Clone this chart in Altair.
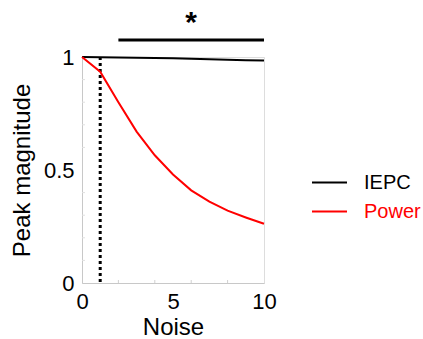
import altair as alt
import pandas as pd

noise = [0, 1, 2, 3, 4, 5, 6, 7, 8, 9, 10]
iepc = [1.0, 0.999, 0.998, 0.997, 0.996, 0.994, 0.992, 0.99, 0.988, 0.986, 0.984]
power = [1.0, 0.935, 0.80, 0.67, 0.565, 0.48, 0.41, 0.36, 0.32, 0.29, 0.262]

threshold_x = [1]
sig_start = [2]
sig_end = [10]
sig_level = [1.075]
star_x = [6]
star_y = [1.15]

x_minor = [2, 4, 6, 8]
y_minor = [0.1, 0.2, 0.3, 0.4, 0.6, 0.7, 0.8, 0.9]

FONT = "Liberation Sans"
W, H = 182, 226

rows = []
for n, a, b in zip(noise, iepc, power):
    rows.append({"noise": n, "value": a, "series": "IEPC"})
    rows.append({"noise": n, "value": b, "series": "Power"})
df = pd.DataFrame(rows)

xscale = alt.Scale(domain=[0, 10], nice=False)
yscale = alt.Scale(domain=[0, 1], nice=False)

lines = alt.Chart(df).mark_line(strokeWidth=2).encode(
    x=alt.X("noise:Q", scale=xscale, title="Noise",
            axis=alt.Axis(values=[0, 5, 10], tickSize=0, labelPadding=8, grid=False,
                          labelFlush=False, labelOverlap=False,
                          labelFontSize=22, titleFontSize=24, titlePadding=3,
                          labelFont=FONT, titleFont=FONT, domainColor="#c8c8c8",
                          labelColor="black", titleColor="black", titleFontWeight="normal")),
    y=alt.Y("value:Q", scale=yscale, title="Peak magnitude",
            axis=alt.Axis(values=[0, 0.5, 1], tickSize=0, labelPadding=8, grid=False,
                          labelFlush=False, labelOverlap=False,
                          labelFontSize=22, titleFontSize=24, titlePadding=9,
                          labelFont=FONT, titleFont=FONT, domainColor="#c8c8c8",
                          labelColor="black", titleColor="black", titleFontWeight="normal",
                          labelExpr="datum.value == 0.5 ? '0.5' : format(datum.value, 'd')")),
    color=alt.Color("series:N",
                    scale=alt.Scale(domain=["IEPC", "Power"], range=["black", "#ff0000"]),
                    legend=alt.Legend(title=None, orient="none", legendX=229, legendY=107,
                                      symbolType="stroke", symbolSize=1225, symbolStrokeWidth=2,
                                      labelFontSize=20, labelFont=FONT, labelOffset=16,
                                      rowPadding=-9,
                                      labelColor=alt.ExprRef("datum.label == 'Power' ? '#ff0000' : 'black'"))),
)

xt = alt.Chart(pd.DataFrame({"t": x_minor})).mark_rule(color="#d0d0d0", strokeWidth=1).encode(
    x=alt.X("t:Q", scale=xscale), y=alt.value(H), y2=alt.value(H - 3))
yt = alt.Chart(pd.DataFrame({"t": y_minor})).mark_rule(color="#e0e0e0", strokeWidth=1).encode(
    y=alt.Y("t:Q", scale=yscale), x=alt.value(0), x2=alt.value(3))

thr = alt.Chart(pd.DataFrame({"x": threshold_x})).mark_rule(
    color="black", strokeWidth=3, strokeDash=[3, 3]).encode(
    x=alt.X("x:Q", scale=xscale), y=alt.value(0), y2=alt.value(H + 2))

sig = alt.Chart(pd.DataFrame({"a": sig_start, "b": sig_end, "y": sig_level})).mark_rule(
    color="black", strokeWidth=3).encode(
    x=alt.X("a:Q", scale=xscale), x2="b:Q", y=alt.Y("y:Q", scale=yscale))

star = alt.Chart(pd.DataFrame({"x": star_x, "y": star_y, "t": ["*"]})).mark_text(
    fontSize=30, font=FONT, fontWeight="bold", color="black", baseline="middle").encode(
    x=alt.X("x:Q", scale=xscale), y=alt.Y("y:Q", scale=yscale), text="t:N")

chart = alt.layer(xt, yt, thr, lines, sig, star).properties(
    width=W, height=H,
    autosize=alt.AutoSizeParams(type="none"),
    padding={"left": 82, "top": 57, "right": 423 - 82 - W, "bottom": 339 - 57 - H},
).configure_view(stroke=None).configure(background="white")

chart.save("out.html", embed_options={"renderer": "svg", "actions": False})
